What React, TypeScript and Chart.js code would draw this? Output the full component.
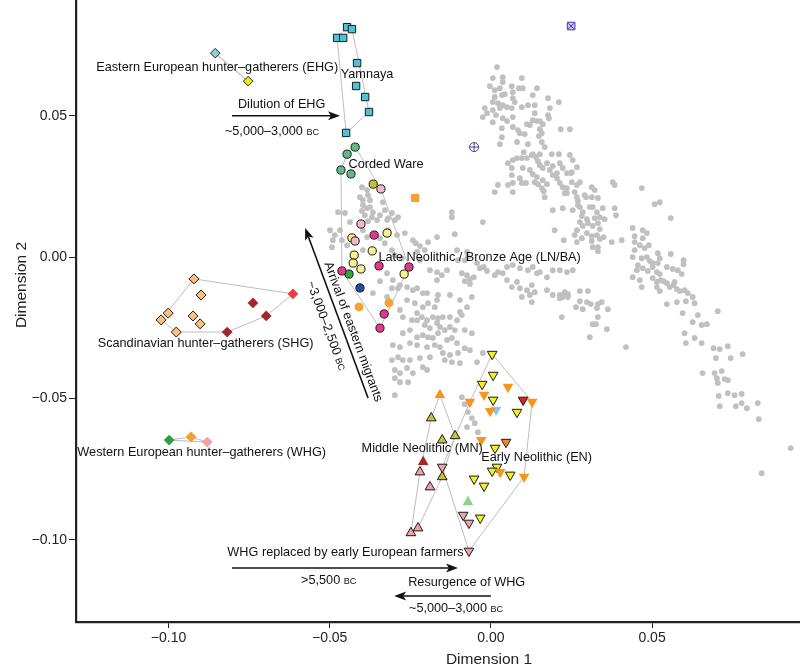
import React, { useEffect, useRef } from 'react';
import { Chart, registerables } from 'chart.js';

Chart.register(...registerables);

type P = [number, number];

// ---------- axis ticks ----------
const xTicks = [-0.1, -0.05, 0, 0.05];
const yTicks = [-0.1, -0.05, 0, 0.05];

// ---------- modern reference individuals (grey), values in thousandths ----------
const modernMilli: P[] = [
  [1.9,67.2],[0.6,63.3],[3.7,63.6],[3.7,61.9],[9.6,63.3],[-0.3,60.4],[1.2,59.0],[2.8,59.7],[6.5,60.4],[8.7,59.7],[9.9,59.7],[14.3,59.7],[6.8,58.3],[1.2,56.6],[3.4,57.3],[4.3,57.6],[0.6,54.8],[2.2,54.4],[3.7,53.7],[6.8,56.2],[7.4,54.8],[13.0,57.3],[11.5,53.7],[13.6,53.7],[17.7,56.2],[21.1,54.8],[-1.9,52.7],[-1.2,50.9],[-2.5,49.5],[0.6,52.0],[1.6,50.2],[2.8,52.7],[5.0,53.0],[6.5,52.7],[9.6,53.0],[6.8,49.5],[3.7,49.1],[5.0,48.1],[18.3,52.7],[13.6,50.9],[17.7,50.2],[18.0,49.1],[13.0,48.4],[14.3,48.1],[15.2,48.1],[16.1,47.0],[0.6,47.7],[3.4,45.6],[6.8,46.0],[8.4,44.9],[9.0,43.8],[11.2,47.0],[12.1,46.7],[15.2,45.2],[15.8,43.8],[14.9,42.8],[10.5,43.5],[21.7,45.2],[24.5,45.2],[3.4,42.4],[2.8,39.9],[8.1,40.7],[11.5,39.9],[15.8,40.7],[16.7,38.9],[10.2,37.1],[13.0,36.4],[15.2,36.4],[18.9,36.4],[21.1,36.4],[24.5,36.1],[25.4,34.3],[5.3,33.2],[6.8,34.3],[8.1,35.0],[9.6,35.0],[11.2,35.0],[12.7,36.1],[14.0,35.4],[14.6,33.9],[15.2,32.5],[16.1,31.5],[17.4,33.2],[18.3,30.8],[19.2,32.2],[20.5,29.7],[22.3,31.5],[23.6,29.7],[24.8,29.7],[6.5,31.5],[9.9,31.5],[12.1,30.8],[13.0,29.3],[6.5,29.0],[9.0,27.9],[14.3,28.3],[13.6,26.5],[14.6,25.8],[16.1,27.2],[17.4,25.8],[20.5,27.9],[21.4,26.2],[22.3,24.7],[25.1,26.5],[27.6,26.5],[2.2,25.5],[5.3,25.5],[6.8,26.2],[9.6,26.2],[10.9,26.2],[1.2,23.0],[6.8,23.0],[15.8,24.4],[16.4,23.3],[23.6,22.6],[16.7,21.2],[26.0,23.0],[26.7,21.2],[27.0,19.8],[31.3,24.7],[32.2,23.7],[37.8,26.5],[38.4,25.5],[29.5,21.2],[31.3,21.2],[33.2,20.9],[46.8,24.4],[27.6,17.7],[28.5,15.9],[28.2,14.5],[29.8,13.4],[27.6,12.4],[28.5,11.0],[31.6,17.7],[32.9,15.9],[32.2,13.8],[33.8,14.1],[34.7,17.3],[35.3,13.4],[33.2,12.0],[31.6,11.0],[19.2,16.6],[38.4,17.3],[38.8,14.8],[-2.5,12.4],[19.8,9.5],[44.0,10.3],[47.1,9.5],[50.8,18.7],[52.4,19.4],
  [22.9,22.6],[29.1,21.9],[27.0,18.4],[30.7,17.7],[30.1,12.0],[33.8,9.9],[55.8,13.8],[48.4,8.5],[44.6,7.4],[47.1,6.7],[26.7,9.5],[26.0,7.8],[29.8,8.5],[31.3,7.4],[32.9,7.8],[33.8,6.4],[35.0,7.1],[28.2,6.7],[31.3,5.7],[22.6,6.0],[26.7,5.3],[31.6,3.5],[33.2,3.5],[33.2,2.1],[37.5,5.3],[40.6,6.0],[44.6,5.3],[46.2,4.2],[47.7,3.2],[49.0,4.2],[44.6,2.5],[44.0,0],[46.8,-0.4],[48.4,0],[49.3,-1.4],[50.2,-2.1],[51.8,1.4],[52.4,-0.4],[51.8,-2.1],[55.8,1.1],[59.8,-1.1],[59.8,-2.5],[45.6,-2.8],[45.3,-4.6],[47.1,-3.9],[48.7,-4.9],[50.2,-3.5],[51.5,-5.3],[52.4,-6.0],[54.6,-3.5],[56.4,-4.2],[58.0,-4.6],[59.2,-6.0],[44.0,-7.1],[46.2,-8.1],[46.8,-10.6],[50.2,-7.4],[51.5,-8.8],[52.7,-8.1],[53.6,-8.5],[51.5,-10.6],[52.4,-12.0],[54.6,-9.2],[55.5,-10.6],[56.7,-9.9],[57.7,-11.3],[58.6,-12.0],[60.1,-11.7],[61.1,-12.7],[57.0,-8.8],[21.4,-14.5],[22.3,-14.1],[23.9,-13.1],[27.6,-12.0],[30.1,-12.0],[27.6,-15.6],[29.8,-15.9],[31.0,-16.6],[33.2,-16.6],[34.4,-15.9],[26.4,-17.7],[28.5,-18.4],[32.9,-18.0],[36.3,-18.4],[33.2,-21.2],[31.6,-23.7],[32.6,-23.7],[36.0,-25.5],[30.7,-28.3],[41.9,-31.8],[54.6,-16.6],[57.7,-15.9],[60.5,-15.6],[62.6,-14.1],[63.2,-16.3],[59.5,-19.8],[64.2,-20.5],[62.6,-23.0],[65.4,-24.0],[67.0,-23.7],[70.4,-19.1],[60.1,-26.9],[60.5,-30.4],[63.2,-28.6],[65.4,-30.4],[69.1,-32.2],[71.0,-32.5],[69.8,-35.7],[73.5,-31.5],[74.4,-35.7],[78.1,-34.3],[65.7,-41.0],[69.4,-41.0],[70.1,-42.8],[71.6,-40.3],[72.5,-43.1],[73.5,-43.5],[70.4,-44.5],[70.7,-49.1],[73.5,-48.1],[75.6,-48.8],[77.8,-48.4],[76.0,-52.7],[77.8,-51.6],[79.4,-53.4],[71.0,-52.7],[82.8,-51.6],[83.1,-57.3],[93.0,-67.5],[84.0,-76.4],[22.0,-21.2],
  [-33.5,19.4],[-32.9,16.6],[-31.9,13.8],[-29.8,13.1],[-12.1,15.9],[-12.1,14.1],[-11.2,8.1],[-24.2,6.0],[-23.3,4.9],[-22.0,3.9],[-19.5,5.3],[-16.7,7.1],[19.2,29.0],[25.1,30.0],[26.7,31.8],[26.7,25.5],[23.6,24.4],[22.3,17.3],[25.4,16.6],[21.4,33.2],[-10.5,2.5],[-7.4,1.8],[-7.1,0],[-10.2,-1.1],[-8.1,-1.1],[-4.3,-2.1],[-3.4,-3.9],[-2.2,-3.5],[-1.2,-4.9],[1.2,-6.4],[2.2,-5.3],[3.7,-5.7],[5.0,-3.5],[6.8,-2.8],[9.0,-3.9],[11.5,-4.6],[13.0,-3.5],[14.3,-5.7],[15.2,-5.3],[17.4,-7.1],[19.2,-4.6],[21.4,-4.6],[23.6,-5.3],[25.4,-4.6],[-9.0,-5.7],[-7.4,-6.4],[-6.5,-7.8],[-5.3,-7.1],[-8.1,-8.5],[-6.5,-9.5],[-18.9,-4.6],[-16.7,-5.3],[-15.2,-6.4],[-13.6,-4.6],[-22.0,-1.1],[-32.2,-5.7],[-30.4,-8.1],[-30.7,-11.0],[-28.8,-11.0],[-28.2,-9.9],[-26.0,-10.6],[-24.2,-11.7],[-22.9,-11.0],[-21.1,-12.7],[5.0,-8.1],[6.5,-10.6],[8.1,-8.8],[9.0,-11.0],[11.2,-11.7],[12.7,-9.9],[13.6,-12.4],[17.4,-11.7],[19.2,-13.4],[21.4,-13.4],[22.9,-12.4],[23.9,-14.1],[9.6,-14.1],[12.1,-13.4],[12.7,-15.9],[-16.4,-13.4],[-12.7,-13.4],[-9.6,-15.2],[-5.9,-14.1],[-7.4,-17.7],[-26.0,-15.2],[-23.6,-16.3],[-21.1,-17.7],[-19.5,-16.3],[-17.4,-17.7],[-27.3,-21.2],[-24.5,-22.3],[-22.9,-22.3],[-21.4,-21.2],[-19.8,-22.3],[-18.0,-21.2],[-16.4,-21.6],[-14.9,-21.2],[-12.7,-21.2],[-10.5,-22.3],[-9.6,-19.4],[-9.0,-20.5],[-20.5,-24.0],[-18.9,-25.1],[-16.7,-23.3],[-15.8,-24.7],[-14.3,-25.8],[-12.7,-24.7],[-11.2,-25.8],[-8.1,-25.8],[-5.9,-26.9],[-27.3,-26.9],[-22.9,-28.3],[-21.1,-27.6],[-19.5,-28.3],[-18.0,-28.6],[-16.4,-26.9],[-13.6,-29.3],[-12.1,-28.6],[-10.5,-30.4],[-8.1,-32.2],[-6.5,-32.9],[-30.4,-31.1],[-28.2,-31.8],[-25.1,-30.4],[-22.9,-31.1],[-19.8,-31.8],[-17.4,-31.1],[-15.8,-31.8],[-12.7,-34.6],[-10.2,-33.9],[-30.7,-36.4],[-28.8,-35.4],[-27.3,-36.4],[-25.1,-36.4],[-22.0,-35.7],[-18.9,-35.4],[-14.3,-36.4],[-12.1,-37.1],[-9.6,-37.5],[-4.3,-37.1],[-29.8,-39.9],[-28.2,-41.0],[-26.0,-39.2],[-24.2,-41.0],[-21.1,-38.9],[-29.8,-42.8],[-28.2,-44.2],[-25.7,-44.2],[-29.8,-48.8],[-19.8,-39.9],[-2.5,-33.9],[-9.0,-49.5],[-8.1,-52.0],[-7.1,-54.8],[-5.9,-56.9],[-5.0,-58.7],[-4.0,-61.9],[-7.4,-60.1],[-14.9,-33.9],
  [-40.0,24.7],[-38.4,23.7],[-40.6,21.2],[-39.7,20.1],[-38.1,21.9],[-37.5,20.1],[-39.7,18.4],[-38.4,17.3],[-40.0,16.3],[-37.5,17.7],[-36.6,15.9],[-39.1,14.8],[-36.9,14.1],[-38.1,12.7],[-35.3,13.1],[-34.4,14.8],[-32.2,13.1],[-30.7,15.6],[-28.8,14.1],[-45.3,15.6],[-43.7,12.4],[-46.8,9.5],[-46.2,6.0],[-44.6,4.2],[-48.4,7.8],[-31.9,9.5],[-29.1,7.8],[-26.7,8.5],[-39.7,9.5],[-38.4,7.1],[-34.4,6.7],[-32.9,4.9],[-30.7,2.5],[-29.8,0.7],[-39.7,2.5],[-27.6,-0.4],[-22.9,1.8],[-20.5,2.5],[-47.4,15.9],[-49.9,9.5],[-49.0,6.0],[-49.3,3.5],[-16.7,-8.1],[-19.8,-12.7],[-16.7,-15.2],[-22.9,-19.8],[-25.1,-25.8],[-34.4,-8.5],[-36.6,-12.7],[-32.2,-14.1],[-28.2,-18.7],
];

// ---------- ancient groups ----------
const ehgBlue: P[] = [[-0.0855, 0.0721]];
const ehgYellow: P[] = [[-0.0753, 0.0622]];
const yamnaya: P[] = [[-0.0446,0.0813],[-0.0431,0.0806],[-0.0477,0.0775],[-0.0458,0.0775],[-0.0415,0.0686],[-0.0418,0.0605],[-0.039,0.0566],[-0.0378,0.0513],[-0.0449,0.0439]];
const cordedWare: P[] = [[-0.0421,0.0389],[-0.0446,0.0364],[-0.0465,0.0308],[-0.0434,0.0294]];
const lnbaOlive: P[] = [[-0.0365,0.0258]];
const lnbaPink: P[] = [[-0.0341,0.0241],[-0.0403,0.0117],[-0.0421,0.0057]];
const lnbaMagenta: P[] = [[-0.0362,0.0078],[-0.0347,-0.0031],[-0.0254,-0.0035],[-0.0462,-0.0049],[-0.0331,-0.0201],[-0.0344,-0.0251]];
const lnbaYellow: P[] = [[-0.0322,0.0085],[-0.0431,0.0068],[-0.0368,0.0022],[-0.0424,0.0007],[-0.0427,-0.0021],[-0.0403,-0.0042],[-0.0269,-0.006]];
const lnbaGreen: P[] = [[-0.044,-0.006]];
const lnbaBlue: P[] = [[-0.0406,-0.0109]];
const bellBeakerOrange: P[] = [[-0.0409,-0.0176],[-0.0316,-0.0162]];
const orangeSquare: P[] = [[-0.0235,0.0209]];
const shgLight: P[] = [[-0.0921,-0.0077],[-0.0899,-0.0134],[-0.1001,-0.0198],[-0.1023,-0.0222],[-0.0924,-0.0208],[-0.0902,-0.0236],[-0.0976,-0.0265]];
const shgDark: P[] = [[-0.0738,-0.0162],[-0.0697,-0.0208],[-0.0818,-0.0265]];
const shgRed: P[] = [[-0.0614,-0.013]];
const whgGreen: P[] = [[-0.0998,-0.0647]];
const whgOrange: P[] = [[-0.093,-0.0636]];
const whgPink: P[] = [[-0.088,-0.0654]];
const enYellow: P[] = [[0.0004,-0.0343],[0.0007,-0.0417],[-0.0027,-0.0449],[0.0007,-0.0505],[0.0081,-0.0548],[0.0013,-0.0675],[0.0019,-0.0742],[0.0004,-0.0756],[0.006,-0.077],[-0.0052,-0.0784],[-0.0021,-0.0809],[-0.0033,-0.0922]];
const enOrange: P[] = [[0.0053,-0.0459],[-0.0021,-0.0487],[-0.0065,-0.0512],[-0.0002,-0.0544],[-0.003,-0.0647],[0.0029,-0.076],[0.0103,-0.0777],[0.0128,-0.0512]];
const enOrangeDark: P[] = [[0.0047,-0.0654]];
const enRed: P[] = [[0.01,-0.0505]];
const enBlue: P[] = [[0.0016,-0.054]];
const enPink: P[] = [[-0.0151,-0.0742],[-0.0086,-0.0912],[-0.0068,-0.094],[-0.0068,-0.1039]];
const mnOrange: P[] = [[-0.0158,-0.0487]];
const mnOlive: P[] = [[-0.0185,-0.0569],[-0.0151,-0.0647],[-0.0111,-0.0632],[-0.0151,-0.0777]];
const mnDarkRed: P[] = [[-0.021,-0.0724]];
const mnPink: P[] = [[-0.022,-0.076],[-0.0189,-0.0813],[-0.0248,-0.0975],[-0.0226,-0.0958]];
const mnGreen: P[] = [[-0.0071,-0.0866]];
const purpleSquare: P[] = [[0.0249,0.0817]];
const purpleCircle: P[] = [[-0.0052,0.0389]];

// ---------- annotation texts ----------
const groupLabels: { text: string; x: number; y: number }[] = [
  { text: 'Eastern European hunter–gatherers (EHG)', x: -0.0849, y: 0.0672 },
  { text: 'Yamnaya', x: -0.0384, y: 0.0647 },
  { text: 'Dilution of EHG', x: -0.0649, y: 0.0541 },
  { text: 'Corded Ware', x: -0.0325, y: 0.0329 },
  { text: 'Late Neolithic / Bronze Age (LN/BA)', x: -0.0035, y: 0.0 },
  { text: 'Scandinavian hunter–gatherers (SHG)', x: -0.0885, y: -0.0304 },
  { text: 'Western European hunter–gatherers (WHG)', x: -0.0897, y: -0.0692 },
  { text: 'Middle Neolithic (MN)', x: -0.0213, y: -0.0678 },
  { text: 'Early Neolithic (EN)', x: 0.0142, y: -0.071 },
  { text: 'WHG replaced by early European farmers', x: -0.0451, y: -0.1046 },
  { text: 'Resurgence of WHG', x: -0.0075, y: -0.1152 },
];
const dateLabels: { text: string; x: number; y: number }[] = [
  { text: '~5,000–3,000 ', x: -0.0679, y: 0.0449 },
  { text: '>5,500 ', x: -0.0503, y: -0.1138 },
  { text: '~5,000–3,000 ', x: -0.0108, y: -0.1237 },
];
const arrows: { from: P; to: P }[] = [
  { from: [-0.0803, 0.05], to: [-0.0468, 0.05] },
  { from: [-0.0803, -0.1099], to: [-0.0102, -0.1099] },
  { from: [0.0, -0.1198], to: [-0.03, -0.1198] },
];
const migrationArrow: { from: P; to: P } = { from: [-0.0381, -0.0498], to: [-0.0576, 0.0103] };

const FAMILY = '"Liberation Sans", Arial, Helvetica, sans-serif';
const TEXT = 12.7;

function hull(points: P[]): P[] {
  const p = [...points].sort((a, b) => a[0] - b[0] || a[1] - b[1]);
  if (p.length < 3) return p;
  const cross = (o: P, a: P, b: P) => (a[0] - o[0]) * (b[1] - o[1]) - (a[1] - o[1]) * (b[0] - o[0]);
  const lower: P[] = [];
  for (const pt of p) {
    while (lower.length >= 2 && cross(lower[lower.length - 2], lower[lower.length - 1], pt) <= 0) lower.pop();
    lower.push(pt);
  }
  const upper: P[] = [];
  for (let i = p.length - 1; i >= 0; i--) {
    const pt = p[i];
    while (upper.length >= 2 && cross(upper[upper.length - 2], upper[upper.length - 1], pt) <= 0) upper.pop();
    upper.push(pt);
  }
  upper.pop();
  lower.pop();
  return lower.concat(upper);
}

const xy = (arr: P[]) => arr.map(([x, y]) => ({ x, y }));

function marker(arr: P[], style: string, fill: string, radius: number, border = true, rotation = 0, borderColor = '#1b1b1b') {
  return {
    data: xy(arr),
    pointStyle: style,
    pointRadius: radius,
    pointRotation: rotation,
    backgroundColor: fill,
    borderColor: border ? borderColor : fill,
    borderWidth: border ? 1 : 0,
    showLine: false,
    order: 1,
  };
}

function hullLine(arr: P[]) {
  const h = hull(arr);
  const closed = h.concat([h[0]]);
  return {
    data: xy(closed),
    showLine: true,
    pointRadius: 0,
    borderColor: '#bdbdbd',
    borderWidth: 1,
    fill: false,
    tension: 0,
    order: 5,
  };
}

function drawArrow(ctx: CanvasRenderingContext2D, x1: number, y1: number, x2: number, y2: number) {
  const dx = x2 - x1, dy = y2 - y1;
  const len = Math.hypot(dx, dy);
  const ux = dx / len, uy = dy / len;
  const nx = -uy, ny = ux;
  const L = 12, W = 4.5, notch = 3;
  ctx.save();
  ctx.strokeStyle = '#111';
  ctx.fillStyle = '#111';
  ctx.lineWidth = 1.6;
  ctx.beginPath();
  ctx.moveTo(x1, y1);
  ctx.lineTo(x2 - (L - notch) * ux, y2 - (L - notch) * uy);
  ctx.stroke();
  ctx.beginPath();
  ctx.moveTo(x2, y2);
  ctx.lineTo(x2 - L * ux + W * nx, y2 - L * uy + W * ny);
  ctx.lineTo(x2 - (L - notch) * ux, y2 - (L - notch) * uy);
  ctx.lineTo(x2 - L * ux - W * nx, y2 - L * uy - W * ny);
  ctx.closePath();
  ctx.fill();
  ctx.restore();
}

function drawDate(ctx: CanvasRenderingContext2D, main: string, cx: number, cy: number, angle = 0) {
  const big = `${TEXT}px ${FAMILY}`;
  const small = `${TEXT * 0.72}px ${FAMILY}`;
  ctx.save();
  ctx.translate(cx, cy);
  ctx.rotate(angle);
  ctx.font = big;
  const w1 = ctx.measureText(main).width;
  ctx.font = small;
  const w2 = ctx.measureText('BC').width;
  const start = -(w1 + w2) / 2;
  const base = TEXT * 0.36;
  ctx.fillStyle = '#111';
  ctx.textAlign = 'left';
  ctx.textBaseline = 'alphabetic';
  ctx.font = big;
  ctx.fillText(main, start, base);
  ctx.font = small;
  ctx.fillText('BC', start + w1, base);
  ctx.restore();
}

const annotations = {
  id: 'annotations',
  afterDraw(chart: any) {
    const { ctx, scales } = chart;
    const sx = scales.x, sy = scales.y;
    const px = (v: number) => sx.getPixelForValue(v);
    const py = (v: number) => sy.getPixelForValue(v);
    ctx.save();
    ctx.fillStyle = '#111';
    ctx.font = `${TEXT}px ${FAMILY}`;
    ctx.textAlign = 'center';
    ctx.textBaseline = 'middle';
    for (const l of groupLabels) ctx.fillText(l.text, px(l.x), py(l.y));
    ctx.restore();
    for (const d of dateLabels) drawDate(ctx, d.text, px(d.x), py(d.y));
    for (const a of arrows) drawArrow(ctx, px(a.from[0]), py(a.from[1]), px(a.to[0]), py(a.to[1]));

    // diagonal migration arrow with rotated texts
    const x1 = px(migrationArrow.from[0]), y1 = py(migrationArrow.from[1]);
    const x2 = px(migrationArrow.to[0]), y2 = py(migrationArrow.to[1]);
    drawArrow(ctx, x1, y1, x2, y2);
    const len = Math.hypot(x1 - x2, y1 - y2);
    const ux = (x1 - x2) / len, uy = (y1 - y2) / len; // reading direction (tip -> tail)
    const ang = Math.atan2(uy, ux);
    const nx = uy, ny = -ux; // glyph-up direction
    const t1 = 114, o1 = 9;
    ctx.save();
    ctx.translate(x2 + ux * t1 + nx * o1, y2 + uy * t1 + ny * o1);
    ctx.rotate(ang);
    ctx.font = `${TEXT}px ${FAMILY}`;
    ctx.fillStyle = '#111';
    ctx.textAlign = 'center';
    ctx.textBaseline = 'middle';
    ctx.fillText('Arrival of eastern migrants', 0, 0);
    ctx.restore();
    const t2 = 99, o2 = -13;
    drawDate(ctx, '~3,000–2,500 ', x2 + ux * t2 + nx * o2, y2 + uy * t2 + ny * o2, ang);

    // axis titles
    ctx.save();
    ctx.fillStyle = '#222';
    ctx.font = `15.5px ${FAMILY}`;
    ctx.textAlign = 'center';
    ctx.textBaseline = 'middle';
    ctx.fillText('Dimension 1', 489, 660);
    ctx.translate(22, 285);
    ctx.rotate(-Math.PI / 2);
    ctx.fillText('Dimension 2', 0, 0);
    ctx.restore();
  },
};

const fmt = (v: number) => {
  const s = Math.abs(v).toFixed(2);
  return v < -1e-9 ? '−' + s : s;
};

export default function App() {
  const ref = useRef<HTMLCanvasElement | null>(null);
  useEffect(() => {
    if (!ref.current) return;
    const modern: P[] = modernMilli.map(([x, y]) => [x / 1000, y / 1000]);
    const lnbaAll = [...cordedWare, ...lnbaOlive, ...lnbaPink, ...lnbaMagenta, ...lnbaYellow, ...lnbaGreen, ...lnbaBlue];
    const datasets: any[] = [
      { data: xy(modern), pointStyle: 'circle', pointRadius: 2.9, backgroundColor: '#c0c0c0', borderWidth: 0, showLine: false, order: 10 },
      hullLine([...ehgBlue, ...ehgYellow]),
      hullLine(yamnaya),
      hullLine(lnbaAll),
      hullLine([...shgLight, ...shgDark, ...shgRed]),
      hullLine([...whgGreen, ...whgOrange, ...whgPink]),
      hullLine([...mnOrange, ...mnOlive, ...mnDarkRed, ...mnPink]),
      hullLine([...enYellow, ...enOrange, ...enOrangeDark, ...enRed, ...enBlue, ...enPink]),
      marker(ehgBlue, 'rectRot', '#8fd0dc', 4.8),
      marker(ehgYellow, 'rectRot', '#f2ea1a', 4.8),
      marker(yamnaya, 'rect', '#4ec3d8', 5.2),
      marker(cordedWare, 'circle', '#5fba86', 4.1),
      marker(lnbaOlive, 'circle', '#c3c331', 4.1),
      marker(lnbaPink, 'circle', '#f5b8c5', 4.1),
      marker(lnbaMagenta, 'circle', '#e8368c', 4.1),
      marker(lnbaYellow, 'circle', '#f6f18e', 4.1),
      marker(lnbaGreen, 'circle', '#33a83a', 4.1),
      marker(lnbaBlue, 'circle', '#1f4ea6', 4.1),
      marker(bellBeakerOrange, 'circle', '#f7a133', 4.5, false),
      marker(orangeSquare, 'rect', '#f7a133', 5.8, false),
      marker(shgLight, 'rectRot', '#fcc07c', 5),
      marker(shgDark, 'rectRot', '#a3262a', 5.4, false),
      marker(shgRed, 'rectRot', '#e8403f', 5.4, false),
      marker(whgGreen, 'rectRot', '#2e9e3e', 5.4, false),
      marker(whgOrange, 'rectRot', '#f4a030', 5.4, false),
      marker(whgPink, 'rectRot', '#f4a0a4', 5.4, false),
      marker(enOrange, 'triangle', '#f7941d', 6.2, false, 180),
      marker(enYellow, 'triangle', '#f5ef1e', 5.6, true, 180),
      marker(enOrangeDark, 'triangle', '#f08a24', 5.6, true, 180),
      marker(enRed, 'triangle', '#e0201f', 5.6, true, 180),
      marker(enBlue, 'triangle', '#84c8e6', 6.2, false, 180),
      marker(enPink, 'triangle', '#f3a0a6', 5.6, true, 180),
      marker(mnOrange, 'triangle', '#f7941d', 6.2, false),
      marker(mnOlive, 'triangle', '#c4c435', 5.6, true),
      marker(mnDarkRed, 'triangle', '#a3262a', 6.2, false),
      marker(mnPink, 'triangle', '#f3a0a6', 5.6, true),
      marker(mnGreen, 'triangle', '#94d08e', 6.2, false),
      marker(purpleSquare, 'rect', '#c9c6f0', 5.4, true, 0, '#4b3aa2'),
      { ...marker(purpleSquare, 'crossRot', '#4b3aa2', 4, true, 0, '#4b3aa2'), order: 0 },
      marker(purpleCircle, 'circle', '#ffffff', 4.5, true, 0, '#4b3aa2'),
      { ...marker(purpleCircle, 'cross', '#4b3aa2', 4.5, true, 0, '#4b3aa2'), order: 0 },
    ];
    const tickFont = { family: FAMILY, size: 14 };
    const chart = new Chart(ref.current, {
      type: 'scatter',
      data: { datasets },
      options: {
        animation: false,
        responsive: false,
        maintainAspectRatio: false,
        events: [],
        layout: { padding: 0, autoPadding: false },
        plugins: { legend: { display: false }, tooltip: { enabled: false } },
        scales: {
          x: {
            type: 'linear',
            min: -0.1287,
            max: 0.0959,
            afterBuildTicks: (s: any) => { s.ticks = xTicks.map((v) => ({ value: v })); },
            afterFit: (s: any) => { s.height = 49; s.paddingLeft = 0; s.paddingRight = 0; },
            grid: { display: true, drawOnChartArea: false, drawTicks: true, tickLength: 6, tickColor: '#222', tickWidth: 1 },
            border: { display: true, color: '#222', width: 2.2 },
            ticks: { color: '#222', font: tickFont, padding: 2, maxRotation: 0, autoSkip: false, callback: (v: any) => fmt(Number(v)) },
          },
          y: {
            type: 'linear',
            min: -0.129,
            max: 0.0909,
            afterBuildTicks: (s: any) => { s.ticks = yTicks.map((v) => ({ value: v })); },
            afterFit: (s: any) => { s.width = 76; s.paddingTop = 0; s.paddingBottom = 0; },
            grid: { display: true, drawOnChartArea: false, drawTicks: true, tickLength: 7, tickColor: '#222', tickWidth: 1 },
            border: { display: true, color: '#222', width: 2.2 },
            ticks: { color: '#222', font: tickFont, padding: 2, autoSkip: false, callback: (v: any) => fmt(Number(v)) },
          },
        },
      },
      plugins: [annotations],
    } as any);
    return () => chart.destroy();
  }, []);
  return (
    <div style={{ position: 'absolute', left: 0, top: 0, width: 800, height: 671, background: '#fff' }}>
      <canvas ref={ref} width={800} height={671} style={{ display: 'block', width: 800, height: 671 }} />
    </div>
  );
}
